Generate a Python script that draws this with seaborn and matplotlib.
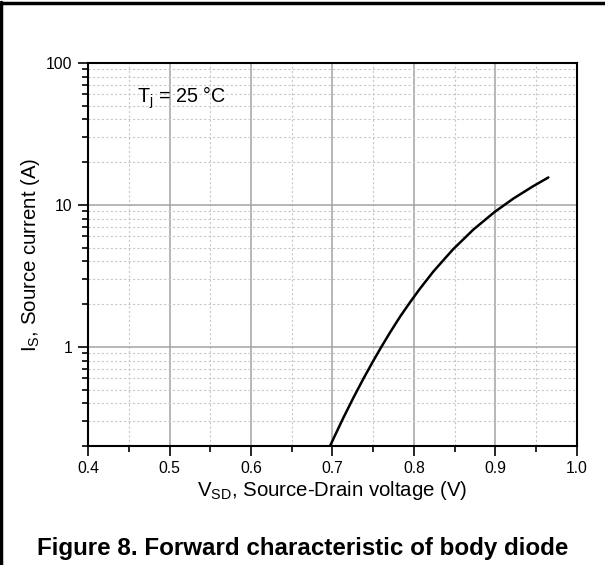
import numpy as np
import pandas as pd
import seaborn as sns
import matplotlib.pyplot as plt
from matplotlib.ticker import MultipleLocator, LogLocator, NullFormatter, FixedLocator, FixedFormatter
from matplotlib.lines import Line2D

# Data
v_sd = [0.697, 0.713, 0.726, 0.738, 0.750, 0.760, 0.771, 0.783, 0.795, 0.807,
        0.824, 0.848, 0.873, 0.899, 0.922, 0.946, 0.965]
i_s = [0.20, 0.313, 0.441, 0.596, 0.794, 0.998, 1.27, 1.63, 2.05, 2.55,
       3.40, 4.86, 6.70, 8.91, 11.07, 13.5, 15.6]

y_ticks = [1, 10, 100]
y_ticklabels = ["1", "10", "100"]

sns.set_theme(style="white")
plt.rcParams['font.family'] = ['Liberation Sans', 'DejaVu Sans']
plt.rcParams['mathtext.fontset'] = 'custom'
plt.rcParams['mathtext.rm'] = 'Liberation Sans'
plt.rcParams['mathtext.it'] = 'Liberation Sans:italic'
plt.rcParams['mathtext.bf'] = 'Liberation Sans:bold'
plt.rcParams['text.color'] = 'black'
plt.rcParams['axes.labelcolor'] = 'black'

df = pd.DataFrame({"V": v_sd, "I": i_s})

fig = plt.figure(figsize=(6.05, 5.65), dpi=100)
ax = fig.add_axes([0.1455, 0.2106, 0.808, 0.678])

sns.lineplot(data=df, x="V", y="I", ax=ax, color="black", lw=1.8, sort=False)
ax.set_yscale("log")
ax.set_xlim(0.4, 1.0)
ax.set_ylim(0.2, 100)

# ticks
ax.xaxis.set_major_locator(MultipleLocator(0.1))
ax.xaxis.set_minor_locator(MultipleLocator(0.05))
ax.yaxis.set_major_locator(FixedLocator(y_ticks))
ax.yaxis.set_major_formatter(FixedFormatter(y_ticklabels))
ax.yaxis.set_minor_locator(LogLocator(base=10, subs=np.arange(2, 10)))
ax.yaxis.set_minor_formatter(NullFormatter())
ax.tick_params(axis="both", which="major", direction="out", length=7, width=1.2,
               color="black", labelsize=11.3, labelcolor="black", pad=4)
ax.tick_params(axis="both", which="minor", direction="out", length=4.5, width=1.2, color="black")
ax.tick_params(left=True, bottom=True, right=False, top=False)
ax.tick_params(which="minor", left=True, bottom=True, right=False, top=False)

# grid
ax.grid(True, which="major", color="#a3a3a3", lw=1.1, ls="-")
ax.grid(True, which="minor", color="#c8c8c8", lw=0.8, ls=(0, (2, 2)))
ax.set_axisbelow(True)

for s in ax.spines.values():
    s.set_color("black")
    s.set_linewidth(1.5)

ax.set_xlabel(r"$\mathregular{V_{SD}}$, Source-Drain voltage (V)", fontsize=14.7, labelpad=2)
ax.set_ylabel(r"$\mathregular{I_S}$, Source current (A)", fontsize=14.7, labelpad=3)

ax.text(0.10, 0.896, r"$\mathregular{T_j}$ = 25 °C", transform=ax.transAxes,
        fontsize=14.2, va="baseline", ha="left")

fig.text(0.5, 0.018, "Figure 8. Forward characteristic of body diode",
         ha="center", va="baseline", fontsize=17.4, fontweight="bold")

# frame lines on left and top of the page
fig.add_artist(Line2D([0.002, 0.002], [0, 0.996], transform=fig.transFigure, color="black", lw=2.5))
fig.add_artist(Line2D([0, 1], [0.995, 0.995], transform=fig.transFigure, color="black", lw=2.5))

fig.savefig("out.png", dpi=100)
